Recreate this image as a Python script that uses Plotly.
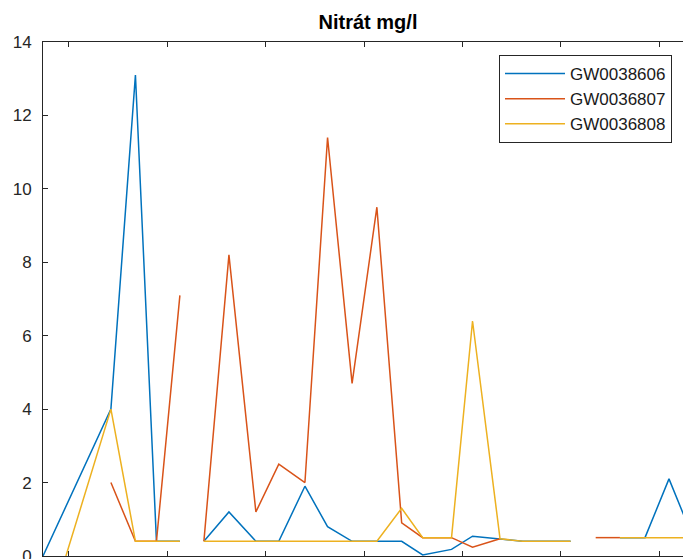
import plotly.graph_objects as go

# Nitrate sampling results per monitoring well (mg/l); None marks a break in the record
dates_gw0038606 = [
    "2009-09-27", "2010-06-06", "2010-09-05", "2010-11-22", "2011-02-17", "2011-04-02",
    "2011-05-17", "2011-08-18", "2011-11-26", "2012-02-19", "2012-05-26", "2012-08-18",
    "2012-11-17", "2013-02-17", "2013-05-20", "2013-08-06", "2013-11-21", "2014-02-07",
    "2014-05-20", "2014-08-12", "2014-11-10", "2015-02-06", "2015-03-24", "2015-08-08",
    "2015-11-09", "2016-02-06", "2016-05-05",
]
nitrate_gw0038606 = [
    0.0, 4.0, 13.1, 0.4, 0.4, None,
    0.4, 1.2, 0.4, 0.4, 1.9, 0.8,
    0.4, 0.4, 0.4, 0.03, 0.18, 0.54,
    0.47, 0.4, 0.4, 0.4, None, 0.5,
    0.5, 2.1, 0.5,
]

dates_gw0036807 = [
    "2010-06-06", "2010-09-05", "2010-11-22", "2011-02-17", "2011-04-02",
    "2011-05-17", "2011-08-18", "2011-11-26", "2012-02-19", "2012-05-26", "2012-08-18",
    "2012-11-17", "2013-02-17", "2013-05-20", "2013-08-06", "2013-11-21", "2014-02-07",
    "2014-05-20", "2015-03-24", "2015-05-10", "2015-08-08",
]
nitrate_gw0036807 = [
    2.0, 0.4, 0.4, 7.1, None,
    0.4, 8.2, 1.2, 2.5, 2.0, 11.4,
    4.7, 9.5, 0.9, 0.5, 0.5, 0.24,
    0.47, None, 0.5, 0.5,
]

dates_gw0036808 = [
    "2009-12-21", "2010-06-06", "2010-09-05", "2010-11-22", "2011-02-17", "2011-04-02",
    "2011-05-17", "2011-08-18", "2011-11-26", "2012-02-19", "2012-05-26", "2012-08-18",
    "2012-11-17", "2013-02-17", "2013-05-20", "2013-08-06", "2013-11-21", "2014-02-07",
    "2014-05-20", "2014-08-12", "2014-11-10", "2015-02-06", "2015-03-24", "2015-08-08",
    "2015-11-09", "2016-02-06", "2016-05-05",
]
nitrate_gw0036808 = [
    0.0, 4.0, 0.4, 0.4, 0.4, None,
    0.4, 0.4, 0.4, 0.4, 0.4, 0.4,
    0.4, 0.4, 1.3, 0.5, 0.5, 6.4,
    0.47, 0.4, 0.4, 0.4, None, 0.5,
    0.5, 0.5, 0.5,
]

well_names = ["GW0038606", "GW0036807", "GW0036808"]
well_colors = ["#0072BD", "#D95319", "#EDB120"]
y_ticks = [0, 2, 4, 6, 8, 10, 12, 14]

series = [
    (dates_gw0038606, nitrate_gw0038606),
    (dates_gw0036807, nitrate_gw0036807),
    (dates_gw0036808, nitrate_gw0036808),
]

axis_color = "#262626"
font_family = "Liberation Sans, Arial, Helvetica, sans-serif"

fig = go.Figure()
for (x, y), name, color in zip(series, well_names, well_colors):
    fig.add_trace(go.Scatter(
        x=x, y=y, name=name, mode="lines",
        line=dict(color=color, width=1.5),
        connectgaps=False,
    ))

fig.update_layout(
    width=683, height=559,
    margin=dict(l=43, r=0, t=42, b=3),
    paper_bgcolor="white", plot_bgcolor="white",
    font=dict(family=font_family, size=17, color=axis_color),
    title=dict(
        text="<b>Nitrát mg/l</b>",
        x=368 / 683, xanchor="center", xref="container",
        y=1 - 22 / 559, yanchor="middle", yref="container",
        font=dict(size=20, color="#000000", family=font_family),
    ),
    showlegend=True,
    legend=dict(
        x=(499 - 43) / 640, y=(556 - 55) / 514,
        xanchor="left", yanchor="top",
        bgcolor="white", bordercolor=axis_color, borderwidth=1,
        font=dict(size=17, color="#1a1a1a"),
        itemwidth=60,
        tracegroupgap=0,
    ),
    xaxis=dict(
        range=["2009-09-27", "2016-03-29"],
        showgrid=False, zeroline=False,
        showline=True, linecolor=axis_color, linewidth=1,
        mirror="ticks",
        ticks="inside", ticklen=5, tickcolor=axis_color, tickwidth=1,
        dtick="M12", tick0="2010-01-01",
        showticklabels=False,
        automargin=False,
    ),
    yaxis=dict(
        range=[0, 14],
        tickvals=y_ticks,
        showgrid=False, zeroline=False,
        showline=True, linecolor=axis_color, linewidth=1,
        mirror=False,
        ticks="inside", ticklen=5, tickcolor=axis_color, tickwidth=1,
        ticklabelstandoff=7,
        ticklabeloverflow="allow",
        automargin=False,
        tickfont=dict(size=17, color=axis_color),
    ),
)

fig.write_html("out.html")
